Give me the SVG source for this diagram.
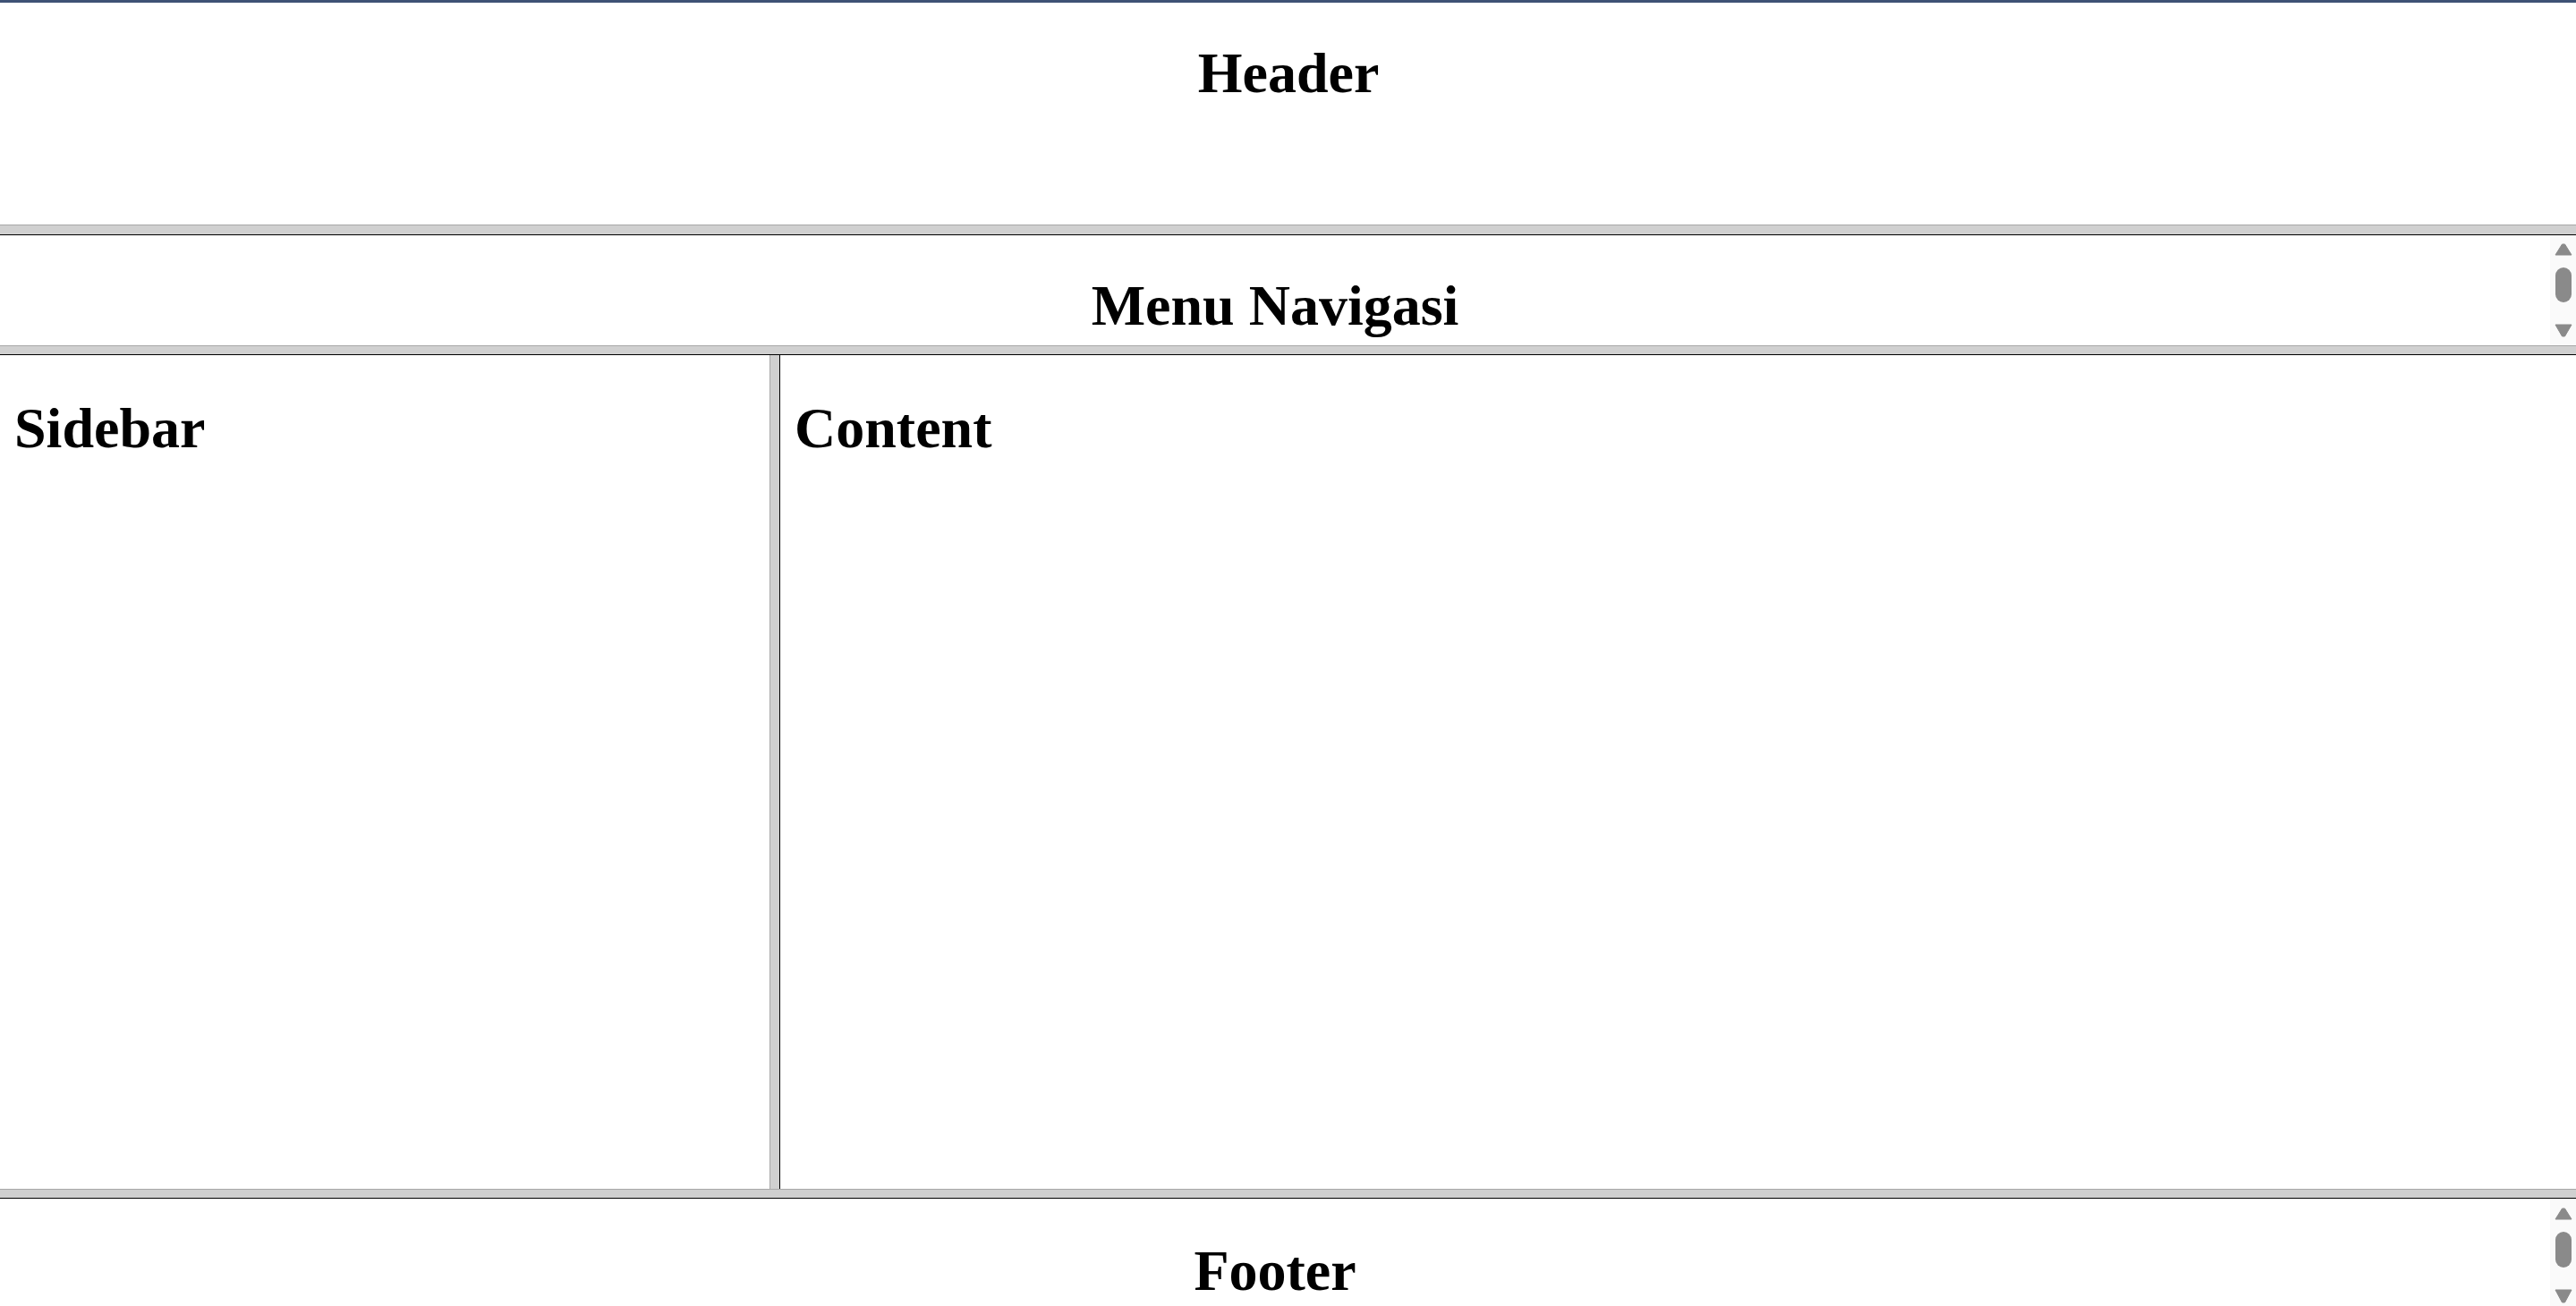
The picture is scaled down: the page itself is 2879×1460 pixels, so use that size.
<svg xmlns="http://www.w3.org/2000/svg" width="2879" height="1460" viewBox="0 0 2879 1460">
<style>
  .lbl { font-family: "Liberation Serif", "Times New Roman", serif; font-weight: bold; font-size: 64px; fill: #000; }
  .bar { fill: #d0d0d0; }
  .edge { fill: #a8a8a8; }
  .blk { fill: #000; }
  .track { fill: #fafafa; }
  .sb { fill: #8a8a8a; }
</style>
<rect x="0" y="0" width="2879" height="1460" fill="#ffffff"/>

<g id="header">
  <rect x="0" y="0" width="2879" height="3" fill="#3e5275"/>
  <text class="lbl" x="1440" y="103" text-anchor="middle">Header</text>
</g>

<g id="separators">
  <rect class="bar" x="0" y="251" width="2879" height="11"/>
  <rect class="edge" x="0" y="251" width="2879" height="1"/>
  <rect class="blk" x="0" y="262" width="2879" height="1"/>
  <rect class="bar" x="0" y="386" width="2879" height="10"/>
  <rect class="edge" x="0" y="386" width="2879" height="1"/>
  <rect class="blk" x="0" y="396" width="2879" height="1"/>
  <rect class="bar" x="860" y="397" width="11" height="932"/>
  <rect class="edge" x="860" y="397" width="1" height="932"/>
  <rect class="blk" x="871" y="397" width="1" height="932"/>
  <rect class="bar" x="0" y="1329" width="2879" height="10"/>
  <rect class="edge" x="0" y="1329" width="2879" height="1"/>
  <rect class="blk" x="0" y="1339" width="2879" height="1"/>
</g>

<g id="menu">
  <text class="lbl" x="1425" y="363" text-anchor="middle">Menu Navigasi</text>
  <g id="menu-scrollbar">
    <rect class="track" x="2850" y="263" width="29" height="123"/>
    <polygon class="sb" points="2856,285 2874,285 2866.5,273 2863.5,273" stroke="#8a8a8a" stroke-width="1" stroke-linejoin="round"/>
    <rect class="sb" x="2856" y="299" width="18" height="39" rx="9" ry="9"/>
    <polygon class="sb" points="2856,363 2874,363 2866.5,376 2863.5,376" stroke="#8a8a8a" stroke-width="1" stroke-linejoin="round"/>
  </g>
</g>

<g id="sidebar">
  <text class="lbl" x="16" y="500">Sidebar</text>
</g>

<g id="content">
  <text class="lbl" x="888" y="500">Content</text>
</g>

<g id="footer">
  <text class="lbl" x="1425" y="1442" text-anchor="middle">Footer</text>
  <g id="footer-scrollbar">
    <rect class="track" x="2850" y="1340" width="29" height="120"/>
    <polygon class="sb" points="2856,1363 2874,1363 2866.5,1351 2863.5,1351" stroke="#8a8a8a" stroke-width="1" stroke-linejoin="round"/>
    <rect class="sb" x="2856" y="1377" width="18" height="40" rx="9" ry="9"/>
    <polygon class="sb" points="2856,1442 2874,1442 2866.5,1456 2863.5,1456" stroke="#8a8a8a" stroke-width="1" stroke-linejoin="round"/>
  </g>
</g>

<g id="connectors"/>
</svg>
